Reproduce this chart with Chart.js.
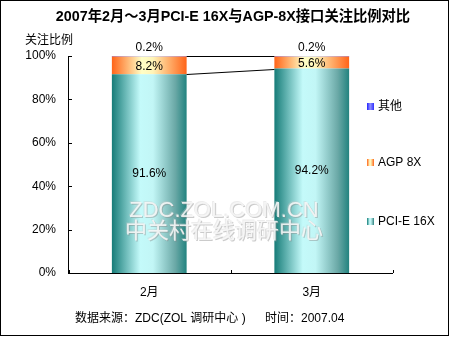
<!DOCTYPE html>
<html>
<head>
<meta charset="utf-8">
<script src="https://cdn.jsdelivr.net/npm/chart.js@4/dist/chart.umd.min.js"></script>
<style>
  html, body { margin: 0; padding: 0; background: #fff; }
  #wrap { width: 450px; height: 337px; }
</style>
</head>
<body>
<div id="wrap"><canvas id="myChart" width="450" height="337"></canvas></div>
<script>
const categories = ['2月', '3月'];
const pcieValues = [91.6, 94.2];
const agpValues = [8.2, 5.6];
const otherValues = [0.2, 0.2];
const seriesNames = ['PCI-E 16X', 'AGP 8X', '其他'];
const yTickValues = [0, 20, 40, 60, 80, 100];
const yTickLabels = ['0%', '20%', '40%', '60%', '80%', '100%'];

const FONT = '"Liberation Sans", Arial, "Noto Sans CJK SC", sans-serif';
const BAR_PCT = 0.46;

const tealStops = [[0, '#167c78'], [0.38, '#c4fafa'], [0.55, '#c2f6f6'], [0.85, '#6aa8a6'], [1, '#22837f']];
const orangeStops = [[0, '#ff6418'], [0.4, '#ffffc6'], [0.55, '#fff4b8'], [1, '#ff6418']];
const blueStops = [[0, '#2020ff'], [0.45, '#9090ff'], [1, '#3030ff']];

function barGradient(stops) {
    return function (c) {
        const chart = c.chart;
        const xs = chart.scales.x;
        if (!xs || c.dataIndex == null) return stops[0][1];
        const cx = xs.getPixelForValue(c.dataIndex);
        const half = xs.width / categories.length * BAR_PCT / 2;
        if (!isFinite(cx) || !isFinite(half) || half <= 0) return stops[0][1];
        const g = chart.ctx.createLinearGradient(cx - half, 0, cx + half, 0);
        stops.forEach(function (s) { g.addColorStop(s[0], s[1]); });
        return g;
    };
}

function swatch(ctx, x, y, stops) {
    const g = ctx.createLinearGradient(x, 0, x + 7, 0);
    stops.forEach(function (s) { g.addColorStop(s[0], s[1]); });
    ctx.fillStyle = g;
    ctx.fillRect(x, y, 7, 7);
}

const decorations = {
    id: 'decorations',
    beforeDraw(chart) {
        const ctx = chart.ctx;
        ctx.save();
        ctx.fillStyle = '#fff';
        ctx.fillRect(0, 0, chart.width, chart.height);
        ctx.strokeStyle = '#000';
        ctx.lineWidth = 1;
        ctx.strokeRect(0.5, 0.5, 448, 335);

        ctx.fillStyle = '#000';
        ctx.textAlign = 'center';
        ctx.textBaseline = 'middle';
        ctx.font = 'bold 14.3px ' + FONT;
        ctx.fillText('2007年2月～3月PCI-E 16X与AGP-8X接口关注比例对比', 233, 17);

        ctx.font = '12px ' + FONT;
        ctx.textAlign = 'left';
        ctx.fillText('关注比例', 25, 41);

        // footer
        ctx.fillText('数据来源：ZDC(ZOL 调研中心 )', 75, 319);
        ctx.fillText('时间：2007.04', 265, 319);

        // legend
        const legendRows = [
            [seriesNames[2], blueStops, 107],
            [seriesNames[1], orangeStops, 163],
            [seriesNames[0], tealStops, 222]
        ];
        legendRows.forEach(function (r) {
            swatch(ctx, 367, r[2] - 4, r[1]);
            ctx.fillStyle = '#000';
            ctx.fillText(r[0], 378, r[2]);
        });
        ctx.restore();
    },
    afterDatasetsDraw(chart) {
        const ctx = chart.ctx;
        const xs = chart.scales.x;
        const ys = chart.scales.y;
        const area = chart.chartArea;
        ctx.save();

        // watermark
        ctx.textAlign = 'center';
        ctx.textBaseline = 'middle';
        ctx.font = '22px ' + FONT;
        [['ZDC.ZOL.COM.CN', 211], ['中关村在线调研中心', 232]].forEach(function (w) {
            ctx.fillStyle = 'rgba(140,140,140,0.45)';
            ctx.fillText(w[0], 225, w[1] + 1);
            ctx.fillStyle = 'rgba(200,200,200,0.35)';
            ctx.fillText(w[0], 223, w[1] - 1);
            ctx.fillStyle = 'rgba(246,246,246,0.9)';
            ctx.fillText(w[0], 224, w[1]);
        });

        // series lines between the bars
        const metaP = chart.getDatasetMeta(0).data;
        const metaA = chart.getDatasetMeta(1).data;
        const metaO = chart.getDatasetMeta(2).data;
        ctx.strokeStyle = '#000';
        ctx.lineWidth = 1;
        [metaP, metaO].forEach(function (m) {
            const a = m[0], b = m[1];
            ctx.beginPath();
            ctx.moveTo(a.x + a.width / 2, Math.round(a.y) + 0.5);
            ctx.lineTo(b.x - b.width / 2, Math.round(b.y) + 0.5);
            ctx.stroke();
        });

        // axes
        ctx.beginPath();
        ctx.moveTo(area.left + 0.5, area.top);
        ctx.lineTo(area.left + 0.5, area.bottom + 0.5);
        ctx.lineTo(area.right, area.bottom + 0.5);
        yTickValues.forEach(function (v) {
            const y = Math.round(ys.getPixelForValue(v)) + 0.5;
            ctx.moveTo(area.left, y);
            ctx.lineTo(area.left + 4, y);
        });
        [area.left + 0.5, (area.left + area.right) / 2, area.right - 0.5].forEach(function (x) {
            const xx = Math.round(x) + 0.5;
            ctx.moveTo(xx, area.bottom);
            ctx.lineTo(xx, area.bottom - 3);
        });
        ctx.stroke();

        ctx.fillStyle = '#000';
        ctx.font = '12px ' + FONT;
        ctx.textAlign = 'right';
        yTickValues.forEach(function (v, i) {
            ctx.fillText(yTickLabels[i], area.left - 12, ys.getPixelForValue(v));
        });
        ctx.textAlign = 'center';
        categories.forEach(function (c, i) {
            ctx.fillText(c, xs.getPixelForValue(i), 293);
        });

        // value labels
        for (let i = 0; i < categories.length; i++) {
            const p = metaP[i], a = metaA[i], o = metaO[i];
            ctx.fillText(pcieValues[i].toFixed(1) + '%', p.x, (p.y + p.base) / 2);
            ctx.fillText(agpValues[i].toFixed(1) + '%', a.x, (a.y + a.base) / 2 + 1);
            ctx.fillText(otherValues[i].toFixed(1) + '%', o.x, o.y - 8);
        }
        ctx.restore();
    }
};

new Chart(document.getElementById('myChart').getContext('2d'), {
    type: 'bar',
    data: {
        labels: categories,
        datasets: [
            { label: seriesNames[0], data: pcieValues, backgroundColor: barGradient(tealStops) },
            { label: seriesNames[1], data: agpValues, backgroundColor: barGradient(orangeStops) },
            { label: seriesNames[2], data: otherValues, backgroundColor: barGradient(blueStops) }
        ]
    },
    options: {
        responsive: false,
        animation: false,
        layout: { padding: { left: 68, top: 56, right: 57, bottom: 64 } },
        datasets: { bar: { barPercentage: BAR_PCT, categoryPercentage: 1, borderWidth: 0 } },
        scales: {
            x: { display: false, stacked: true, offset: true },
            y: { display: false, stacked: true, min: 0, max: 100 }
        },
        plugins: {
            legend: { display: false },
            title: { display: false },
            tooltip: { enabled: false }
        }
    },
    plugins: [decorations]
});
</script>
</body>
</html>
